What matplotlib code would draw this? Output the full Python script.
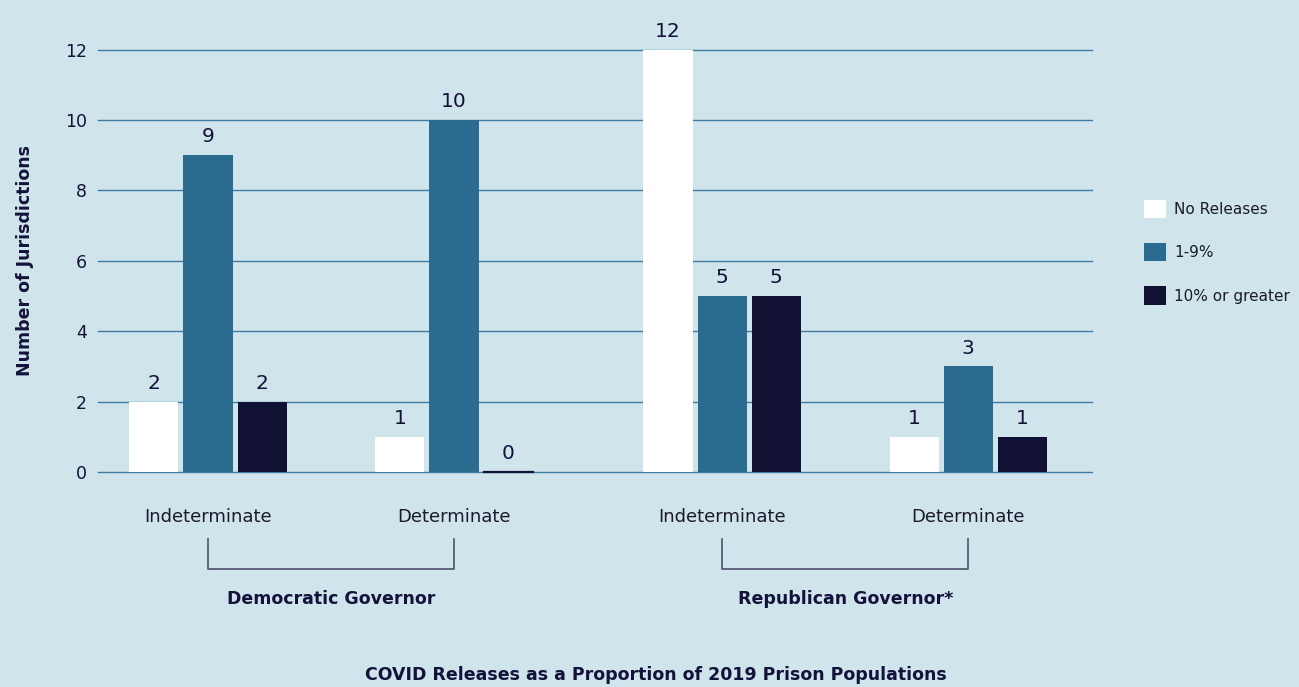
import numpy as np
import matplotlib
matplotlib.use("Agg")
import matplotlib.pyplot as plt
from matplotlib.patches import Patch

# data
categories = ["Indeterminate", "Determinate", "Indeterminate", "Determinate"]
parties = ["Democratic Governor", "Republican Governor*"]
series_names = ["No Releases", "1-9%", "10% or greater"]
no_releases = [2, 1, 12, 1]
one_to_nine = [9, 10, 5, 3]
ten_plus = [2, 0, 5, 1]
yticks = [0, 2, 4, 6, 8, 10, 12]

bg = "#d0e4eb"
ink = "#12123a"
colors = ["#ffffff", "#2b6b90", "#111133"]

plt.rcParams['font.family'] = ['DejaVu Sans']

fig = plt.figure(figsize=(12.99, 6.87), dpi=100, facecolor=bg)
ax = fig.add_axes([98 / 1299, 1 - 472 / 687, 994 / 1299, (472 - 49.6) / 687])
ax.set_facecolor(bg)

# group centres, with a wider gap between the two governor groups
x = np.array([0, 1, 2.09, 3.09])
w = 0.2
off = 0.22

series = [no_releases, one_to_nine, ten_plus]
for i, (vals, c) in enumerate(zip(series, colors)):
    xs = x + (i - 1) * off
    bars = ax.bar(xs, vals, width=w, color=c, zorder=3,
                  label=series_names[i])
    for b, v in zip(bars, vals):
        if v == 0:
            # zero bar shows as a thin dark line
            ax.plot([b.get_x(), b.get_x() + w], [0, 0], color=c, lw=1.6,
                    zorder=4, clip_on=False)
        ax.text(b.get_x() + w / 2, v + 0.25, str(v), ha="center", va="bottom",
                fontsize=14.5, color=ink, fontweight="medium")

ax.set_xlim(-0.447, 3.593)
ax.set_ylim(0, 12)
ax.set_yticks(yticks)
ax.set_xticks(x)
ax.set_xticklabels(categories)
ax.tick_params(axis="y", length=0, labelsize=12.5, colors=ink, pad=8)
ax.tick_params(axis="x", length=0, labelsize=13, colors=ink, pad=26)
for lbl in ax.get_xticklabels():
    lbl.set_color("#1a1a2a")
for s in ax.spines.values():
    s.set_visible(False)
for t in yticks:
    ax.axhline(t, color="#3f7ba3", lw=1, zorder=1, clip_on=False)

ax.set_ylabel("Number of Jurisdictions", fontsize=12.5, fontweight="bold", color=ink,
              labelpad=22)

# brackets under each governor group
for k, name in enumerate(parties):
    x0, x1 = x[2 * k], x[2 * k + 1]
    ax.plot([x0, x0, x1, x1], [-1.9, -2.75, -2.75, -1.9], color="#4a4e6a",
            lw=1.2, clip_on=False)
    ax.text((x0 + x1) / 2, -3.6, name, ha="center", va="center", fontsize=12.5,
            fontweight="bold", color=ink)

fig.text(656 / 1299, 1 - 675 / 687, "COVID Releases as a Proportion of 2019 Prison Populations",
         ha="center", va="center", fontsize=12.5, fontweight="bold", color=ink)

handles = [Patch(facecolor=c, edgecolor="none") for c in colors]
fig.legend(handles, series_names, loc="upper left",
           bbox_to_anchor=(1130 / 1299, 1 - 186 / 687), frameon=False,
           fontsize=11, handlelength=1.45, handleheight=1.45,
           labelspacing=1.65, handletextpad=0.55, labelcolor="#1a1a2a")

fig.savefig("out.png", dpi=100, facecolor=bg)
